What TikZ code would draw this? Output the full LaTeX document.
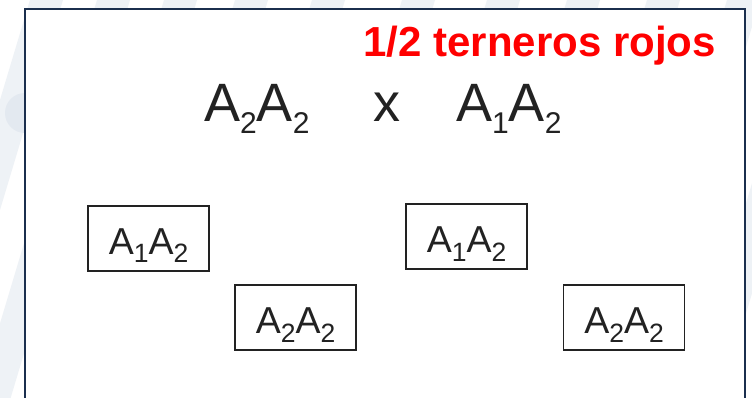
\documentclass[tikz,border=0pt]{standalone}
\usepackage{fontspec}
\setmainfont{Liberation Sans}
\definecolor{framenavy}{HTML}{1B2F4E}
\definecolor{stripe}{HTML}{EEF2F6}
\definecolor{blob}{HTML}{E3E9F0}
\definecolor{ink}{HTML}{222222}
\newcommand\gpair[4]{A\raisebox{-#4}{\fontsize{#3}{#3}\selectfont #1}A\raisebox{-#4}{\fontsize{#3}{#3}\selectfont #2}}
\begin{document}
\begin{tikzpicture}[x=1pt,y=-1pt,
  genbox/.style={draw=ink, line width=1.4pt, minimum width=121pt, minimum height=65pt,
     inner sep=0pt, text height=40pt, text depth=9pt, text=ink,
     font=\fontsize{37.5}{40}\selectfont},
  bigtext/.style={inner sep=0pt, text=ink, font=\fontsize{54}{56}\selectfont},
  title/.style={inner sep=0pt, text=red, font=\fontsize{42}{44}\selectfont\bfseries}]
\useasboundingbox (0,0) rectangle (752,398);
\fill[white] (0,0) rectangle (752,398);
% faint background stripes
\foreach \a in {63,130,197,268,345,435,520,600,680,760,840}
  \fill[stripe] (\a-33,0) -- (\a,0) -- (\a-120,400) -- (\a-153,400) -- cycle;
\fill[blob] (25,113) circle (20);
% frame
\fill[white] (24.5,9) rectangle (745,402);
\draw[framenavy, line width=2pt] (24.5,402) -- (24.5,9) -- (745,9) -- (745,402);
% title
\node[title, anchor=base east] (t) at (716,57) {1/2 terneros rojos};
% parents
\node[bigtext, anchor=base west] (p1) at (204,122) {\gpair{2}{2}{30}{12pt}};
\node[bigtext, anchor=base] (x) at (386.5,122) {x};
\node[bigtext, anchor=base west] (p2) at (456,122) {\gpair{1}{2}{30}{12pt}};
% offspring
\node[genbox] (b1) at (148.5,238.5) {\gpair{1}{2}{26.5}{9pt}};
\node[genbox] (b2) at (295.5,317.5) {\gpair{2}{2}{26.5}{9pt}};
\node[genbox] (b3) at (466.5,236.5) {\gpair{1}{2}{26.5}{9pt}};
\node[genbox] (b4) at (624,317.5) {\gpair{2}{2}{26.5}{9pt}};
\end{tikzpicture}
\end{document}
